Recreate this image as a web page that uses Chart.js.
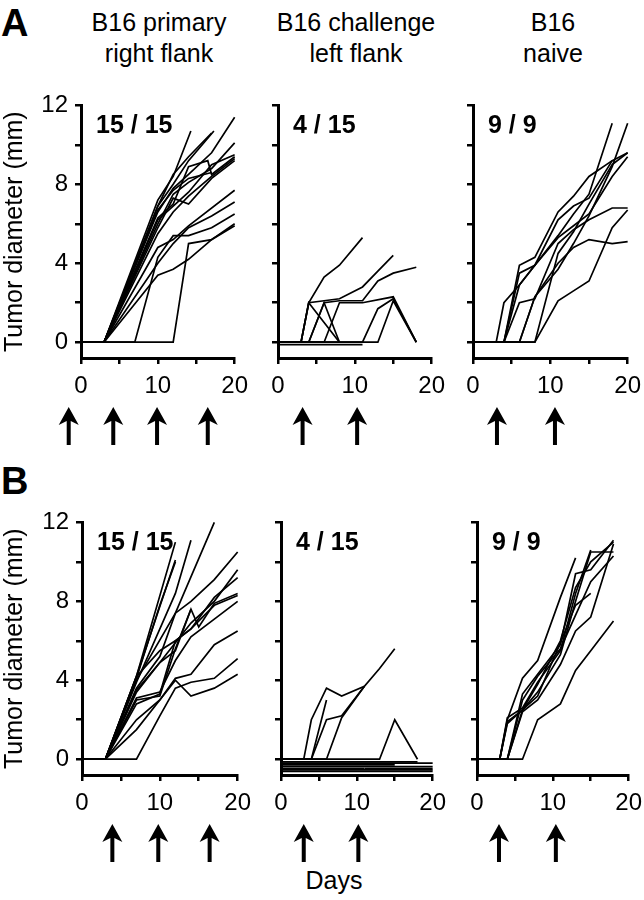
<!DOCTYPE html>
<html lang="en">
<head>
<meta charset="UTF-8">
<title>B16 tumor growth</title>
<script src="https://cdn.jsdelivr.net/npm/chart.js"></script>
<style>
  html, body {
    margin: 0;
    padding: 0;
    background: #fff;
  }
  body {
    width: 644px;
    height: 900px;
    position: relative;
    overflow: hidden;
    font-family: "Liberation Sans", Arial, sans-serif;
    color: #000;
  }
  canvas {
    position: absolute;
  }
  .txt {
    position: absolute;
    white-space: nowrap;
  }
  .letter {
    font-weight: bold;
    font-size: 38px;
    line-height: 38px;
  }
  .col-title {
    font-size: 25px;
    line-height: 31px;
    text-align: center;
    transform: translateX(-50%);
  }
</style>
</head>
<body>
  <div class="txt letter" style="left:1px; top:4px;">A</div>
  <div class="txt letter" style="left:1px; top:462px;">B</div>
  <div class="txt col-title" style="left:159px; top:7px;">B16 primary<br>right flank</div>
  <div class="txt col-title" style="left:356px; top:7px;">B16 challenge<br>left flank</div>
  <div class="txt col-title" style="left:553px; top:7px;">B16<br>naive</div>
  <div class="txt col-title" style="left:334px; top:865px;">Days</div>

  <script>
    // one [day, diameter mm] list per mouse
    const primaryA = [
      [[0,0],[3,0],[10,7.2],[12,8.4],[14.3,10.7]],
      [[0,0],[3,0],[10,6.9],[12,8.0],[14,9.2],[17.3,10.7]],
      [[0,0],[3,0],[10,6.6],[12,7.8],[14,8.5],[17,9.6],[20,11.4]],
      [[0,0],[3,0],[10,6.3],[12,7.0],[14,8.9],[16.5,9.2],[17,8.5],[20,9.4]],
      [[0,0],[3,0],[10,6.0],[12,7.5],[14,8.1],[17,8.8],[20,10.1]],
      [[0,0],[3,0],[10,6.2],[12,6.9],[14,7.6],[17,9.0],[20,9.5]],
      [[0,0],[3,0],[10,5.8],[12,7.3],[14,7.0],[17,8.3],[20,9.2]],
      [[0,0],[3,0],[10,6.7],[12,7.7],[14,8.3],[17,8.6]],
      [[0,0],[3,0],[10,5.5],[12,6.6],[14,7.4],[17,8.4],[20,9.3]],
      [[0,0],[3,0],[10,4.8],[12,5.2],[14,5.9],[20,7.7]],
      [[0,0],[3,0],[10,4.0],[12,5.0],[14,5.8],[17,6.4],[20,7.1]],
      [[0,0],[3,0],[10,3.4],[12,3.7],[14,4.2],[17,5.2],[20,6.0]],
      [[0,0],[7,0],[10,4.3],[12,5.4],[14,5.4],[17,5.8],[20,6.5]],
      [[0,0],[12,0],[14,5.0],[17,5.2],[20,5.9]],
      [[0,0],[3,0],[10,6.9],[12,8.5],[14,9.4],[17,10.6]]
    ];
    const challengeA = [
      [[0,0],[3,0],[4,2],[6,3.3],[8,3.9],[11,5.3]],
      [[0,0],[3,0],[4,2],[6,2.1],[8,2.2],[11,2.8],[13,3.6],[15,4.4]],
      [[0,0],[4,0],[6,2],[8,2.1],[11,2.1],[13,3.1],[15,3.5],[18,3.8]],
      [[0,0],[3,0],[4,2],[8,0]],
      [[0,0],[4,0],[6,2],[8,0]],
      [[0,0],[6,0],[8,2],[11,2],[15,2.3],[18,0]],
      [[0,0],[11,0],[13,1.7],[15,2.2],[18,0]],
      [[0,0],[13,0],[15,2.1],[18,0]],
      [[0,-0.12],[11,-0.12]]
    ];
    const naiveA = [
      [[0,0],[4,0],[6,3.9],[8,4.3],[11,6.6],[13,7.4],[15,8.4],[18,9.2],[20,9.6]],
      [[0,0],[3,0],[4,2],[6,2.9],[8,3.9],[11,5.4],[13,6.5],[15,7.5],[18,11.1]],
      [[0,0],[4,0],[6,2.0],[8,2.2],[11,5.0],[13,5.7],[15,6.2],[18,6.8],[20,6.8]],
      [[0,0],[8,0],[11,2.1],[13,2.6],[15,3.1],[18,5.8],[20,6.7]],
      [[0,0],[6,0],[8,2.3],[11,4.0],[13,4.8],[15,5.2],[18,5.0],[20,5.1]],
      [[0,0],[6,0],[8,2.3],[11,3.7],[13,5.0],[15,6.4],[18,8.9],[20,11.1]],
      [[0,0],[4,0],[6,2.9],[8,3.9],[11,5.3],[13,5.9],[15,6.5],[18,8.4],[20,9.4]],
      [[0,0],[4,0],[6,3.5],[8,3.9],[11,6.2],[13,6.9],[15,7.3],[18,9.2]],
      [[0,0],[8,0],[11,4.5],[13,5.6],[15,7.0],[18,9.0],[20,9.6]]
    ];
    const primaryB = [
      [[0,0],[3,0],[7,4.2],[12,11.0]],
      [[0,0],[3,0],[7,4.2],[12,10.1]],
      [[0,0],[3,0],[7,3.9],[12,8.4],[14,11.1]],
      [[0,0],[3,0],[7,4.0],[12,7.4],[17,12]],
      [[0,0],[3,0],[7,3.6],[10,5.2],[12,7.4],[14,8.0],[17,9.1],[20,10.5]],
      [[0,0],[3,0],[7,3.4],[10,4.9],[12,5.9],[14,6.9],[17,8.0],[20,9.6]],
      [[0,0],[3,0],[7,3.0],[10,3.2],[12,5.6],[14,7.6],[15,6.7],[17,7.9],[20,8.4]],
      [[0,0],[3,0],[7,2.8],[10,3.3],[12,6.0],[14,6.6],[17,7.8],[20,8.3]],
      [[0,0],[3,0],[7,2.0],[10,3.0],[12,4.1],[14,4.3],[17,5.8],[20,6.5]],
      [[0,0],[3,0],[7,1.5],[10,3.0],[12,4.0],[14,3.2],[17,3.6],[20,4.3]],
      [[0,0],[7,0],[10,2.2],[12,3.6],[14,3.9],[17,4.1],[20,5.1]],
      [[0,0],[3,0],[7,3.1],[10,3.4],[12,5.0],[14,6.2],[17,7.1],[20,8.0]],
      [[0,0],[3,0],[7,4.1],[10,7.8],[12,10.0]],
      [[0,0],[3,0],[7,3.5],[10,4.9],[12,5.5],[14,7.6]],
      [[0,0],[3,0],[7,4.2],[10,5.5],[12,6.0],[14,6.6],[17,8.2],[20,9.2]]
    ];
    const challengeB = [
      [[0,0],[3,0],[4,2],[6,3.6],[8,3.2],[11,3.7],[13,4.6],[15,5.6]],
      [[0,0],[4,0],[6,3.0]],
      [[0,0],[4,0],[6,2],[8,2.2],[11,3.7]],
      [[0,0],[6,0],[8,2.1],[11,3.7]],
      [[0,0],[13,0],[15,2],[18,0]],
      [[0,-0.13],[18,-0.13]],
      [[0,-0.2],[20,-0.2]],
      [[0,-0.29],[15,-0.29]],
      [[0,-0.37],[20,-0.37]],
      [[0,-0.46],[11,-0.46]],
      [[11,-0.46],[20,-0.46]],
      [[0,-0.54],[20,-0.54]],
      [[0,-0.62],[20,-0.62]]
    ];
    const naiveB = [
      [[0,0],[3,0],[4,2.0],[6,4.1],[8,5.0],[11,8.2],[13,10.2]],
      [[0,0],[6,0],[8,2.0],[11,2.8],[13,4.5],[15,5.5],[18,7.0]],
      [[0,0],[3,0],[4,1.9],[6,2.5],[8,3.4],[11,5.3],[13,8.0],[15,10.5],[18,10.5]],
      [[0,0],[4,0],[6,2.5],[8,3.8],[11,6.0],[13,8.7],[15,10.0],[18,11.0]],
      [[0,0],[3,0],[4,1.8],[6,2.5],[8,3.2],[11,5.9],[13,7.8],[15,8.4]],
      [[0,0],[4,0],[6,3.3],[8,4.3],[11,5.8],[13,9.4],[15,9.6],[18,11.1]],
      [[0,0],[4,0],[6,2.4],[8,3.0],[11,4.8],[13,6.5],[15,7.2],[18,10.9]],
      [[0,0],[4,0],[6,3.0],[8,4.2],[11,5.6],[13,7.3],[15,9.0],[18,10.3]],
      [[0,0],[3,0],[4,2.1],[6,2.6],[8,3.9],[11,5.5],[13,8.4],[15,10.6]]
    ];

    const countsA = ['15 / 15', '4 / 15', '9 / 9'];
    const countsB = ['15 / 15', '4 / 15', '9 / 9'];
    // treatment days (arrows under each panel)
    const arrowsA = [[-1.6, 4.2, 9.9, 16.5], [3.2, 10.3], [3.1, 10.6]];
    const arrowsB = [[3.9, 9.8, 16.4], [3.0, 10.2], [2.9, 10.4]];
    const xTicks = [0, 5, 10, 15, 20];
    const xLabels = [0, 10, 20];
    const yTicks = [0, 2, 4, 6, 8, 10, 12];
    const yLabels = [0, 4, 8, 12];

    Chart.defaults.font.family = '"Liberation Sans", Arial, sans-serif';
    Chart.defaults.color = '#000';

    const countLabel = {
      id: 'countLabel',
      afterDraw(chart, args, opts) {
        const { ctx, chartArea } = chart;
        ctx.save();
        ctx.font = 'bold 25px "Liberation Sans", Arial, sans-serif';
        ctx.fillStyle = '#000';
        ctx.textBaseline = 'alphabetic';
        ctx.fillText(opts.text, chartArea.left + 15, chartArea.top + 28);
        ctx.restore();
      }
    };

    const arrows = {
      id: 'arrows',
      afterDraw(chart, args, opts) {
        const { ctx, chartArea, scales } = chart;
        const b = chartArea.bottom;
        ctx.save();
        ctx.fillStyle = '#000';
        opts.days.forEach(d => {
          const x = scales.x.getPixelForValue(d);
          ctx.beginPath();
          ctx.moveTo(x, b + 49);
          ctx.lineTo(x + 10, b + 67);
          ctx.lineTo(x + 2, b + 63);
          ctx.lineTo(x + 2, b + 87);
          ctx.lineTo(x - 2, b + 87);
          ctx.lineTo(x - 2, b + 63);
          ctx.lineTo(x - 10, b + 67);
          ctx.closePath();
          ctx.fill();
        });
        ctx.restore();
      }
    };

    const PAD_T = 12, PAD_R = 20, X_H = 45, PAD_B = 95;
    const PX_PER_MM = 20.5;

    const panels = [
      { series: primaryA, count: countsA[0], arrowDays: arrowsA[0], left: 81, right: 236, top: 96, first: true },
      { series: challengeA, count: countsA[1], arrowDays: arrowsA[1], left: 278, right: 433, top: 96 },
      { series: naiveA, count: countsA[2], arrowDays: arrowsA[2], left: 473, right: 629, top: 96 },
      { series: primaryB, count: countsB[0], arrowDays: arrowsB[0], left: 82, right: 239, top: 513, first: true },
      { series: challengeB, count: countsB[1], arrowDays: arrowsB[1], left: 281, right: 434, top: 513 },
      { series: naiveB, count: countsB[2], arrowDays: arrowsB[2], left: 477, right: 630, top: 513 }
    ];

    function makePanel(p) {
      const yW = p.first ? p.left : 40;
      const plotW = p.right - p.left;
      const plotH = 12.8 * PX_PER_MM;
      const cv = document.createElement('canvas');
      cv.width = yW + plotW + PAD_R;
      cv.height = Math.round(PAD_T + plotH + X_H + PAD_B);
      cv.style.left = (p.left - yW) + 'px';
      cv.style.top = (p.top - PAD_T) + 'px';
      document.body.appendChild(cv);

      new Chart(cv, {
        type: 'line',
        data: {
          datasets: p.series.map(s => ({
            data: s.map(([x, y]) => ({ x, y })),
            borderColor: '#000',
            borderWidth: 1.7,
            pointRadius: 0,
            tension: 0,
            fill: false,
            clip: 4
          }))
        },
        options: {
          responsive: false,
          animation: false,
          events: [],
          layout: { padding: { top: PAD_T, right: PAD_R, bottom: PAD_B, left: 0 } },
          plugins: {
            legend: { display: false },
            tooltip: { enabled: false },
            countLabel: { text: p.count },
            arrows: { days: p.arrowDays }
          },
          scales: {
            x: {
              type: 'linear',
              min: 0,
              max: 20,
              afterBuildTicks: s => { s.ticks = xTicks.map(v => ({ value: v })); },
              afterFit: s => { s.height = X_H; },
              border: { display: true, width: 3, color: '#000' },
              grid: { display: true, drawOnChartArea: false, drawTicks: true, tickLength: 6, lineWidth: 2.5, color: '#000' },
              ticks: {
                font: { size: 24 },
                padding: 8,
                maxRotation: 0,
                autoSkip: false,
                callback: v => xLabels.includes(v) ? String(v) : ''
              }
            },
            y: {
              type: 'linear',
              min: -0.8,
              max: 12,
              afterBuildTicks: s => { s.ticks = yTicks.map(v => ({ value: v })); },
              afterFit: s => { s.width = yW; },
              border: { display: true, width: 3, color: '#000' },
              grid: { display: true, drawOnChartArea: false, drawTicks: true, tickLength: 6, lineWidth: 2.5, color: '#000' },
              ticks: {
                font: { size: 24 },
                padding: 7,
                autoSkip: false,
                callback: v => (p.first && yLabels.includes(v)) ? String(v) : ''
              },
              title: {
                display: !!p.first,
                text: 'Tumor diameter (mm)',
                font: { size: 25 },
                padding: 0
              }
            }
          }
        },
        plugins: [countLabel, arrows]
      });
    }

    panels.forEach(makePanel);
  </script>
</body>
</html>
